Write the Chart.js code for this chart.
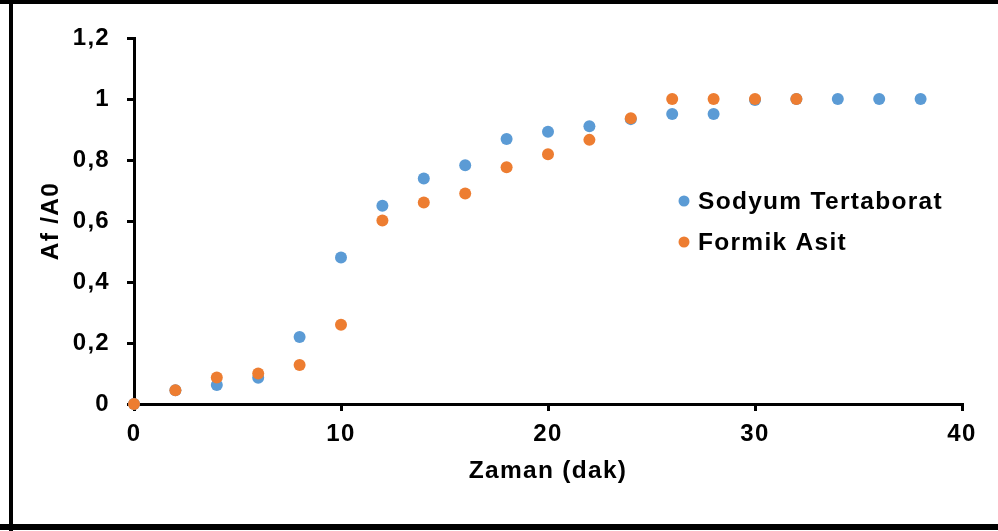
<!DOCTYPE html>
<html lang="tr">
<head>
    <meta charset="UTF-8">
    <title>Af/A0 - Zaman</title>
    <script src="https://cdn.jsdelivr.net/npm/chart.js"></script>
    <style>
        html, body {
            margin: 0;
            padding: 0;
            background: #fff;
        }
        .chart-box {
            position: relative;
            width: 998px;
            height: 531px;
        }
    </style>
</head>
<body>
    <div class="chart-box">
        <canvas id="afChart"></canvas>
    </div>

    <script>
        // zaman (dak)
        const zamanTetraborat = [0, 2, 4, 6, 8, 10, 12, 14, 16, 18, 20, 22, 24, 26, 28, 30, 32, 34, 36, 38];
        const zamanFormik = [0, 2, 4, 6, 8, 10, 12, 14, 16, 18, 20, 22, 24, 26, 28, 30, 32];

        // Af / A0
        const tetraboratDegerleri = [0, 0.045, 0.062, 0.086, 0.22, 0.48, 0.65, 0.739, 0.783, 0.869, 0.893, 0.911, 0.934, 0.951, 0.951, 0.997, 1, 1, 1, 1];
        const formikDegerleri = [0, 0.045, 0.087, 0.1, 0.128, 0.26, 0.602, 0.661, 0.69, 0.776, 0.819, 0.866, 0.937, 1, 1, 1, 1];

        const seriAdlari = ['Sodyum Tertaborat', 'Formik Asit'];
        const renkler = ['#5B9BD5', '#ED7D31'];

        const FONT = "'Liberation Sans', Arial, sans-serif";
        const SPACING = '1.3px';

        const noktalar = (xs, ys) => xs.map((x, i) => ({ x: x, y: ys[i] }));

        // slightly wider letter spacing for all canvas text
        const harfAraligi = {
            id: 'harfAraligi',
            beforeLayout(chart) { chart.ctx.letterSpacing = SPACING; },
            beforeDraw(chart) { chart.ctx.letterSpacing = SPACING; }
        };

        // frame on top, left and bottom edges
        const cerceve = {
            id: 'cerceve',
            afterDraw(chart) {
                const ctx = chart.ctx;
                const w = chart.width, h = chart.height;
                ctx.save();
                ctx.fillStyle = '#000';
                ctx.fillRect(0, 0, w, 4);
                ctx.fillRect(9, 0, 4, h);
                ctx.fillRect(0, 524, w, 6);
                ctx.restore();
            }
        };

        // legend inside the plot
        const gosterge = {
            id: 'gosterge',
            afterDraw(chart) {
                const ctx = chart.ctx;
                ctx.save();
                ctx.letterSpacing = SPACING;
                ctx.font = 'bold 24.5px ' + FONT;
                ctx.textBaseline = 'middle';
                ctx.textAlign = 'left';
                seriAdlari.forEach((ad, i) => {
                    const y = 201 + i * 41;
                    ctx.fillStyle = renkler[i];
                    ctx.beginPath();
                    ctx.arc(684, y, 5.5, 0, Math.PI * 2);
                    ctx.fill();
                    ctx.fillStyle = '#000';
                    ctx.fillText(ad, 698, y + 1);
                });
                ctx.restore();
            }
        };

        const virgullu = (v) => String(Math.round(v * 10) / 10).replace('.', ',');

        new Chart(document.getElementById('afChart'), {
            type: 'scatter',
            data: {
                datasets: [
                    {
                        label: seriAdlari[0],
                        data: noktalar(zamanTetraborat, tetraboratDegerleri),
                        backgroundColor: renkler[0],
                        borderWidth: 0,
                        pointRadius: 6,
                        clip: false,
                        order: 1
                    },
                    {
                        label: seriAdlari[1],
                        data: noktalar(zamanFormik, formikDegerleri),
                        backgroundColor: renkler[1],
                        borderWidth: 0,
                        pointRadius: 6,
                        clip: false,
                        order: 0
                    }
                ]
            },
            options: {
                responsive: true,
                maintainAspectRatio: false,
                animation: false,
                layout: {
                    padding: { left: 20, top: 38, right: 36, bottom: 20 }
                },
                plugins: {
                    legend: { display: false },
                    tooltip: { enabled: false }
                },
                scales: {
                    x: {
                        type: 'linear',
                        min: 0,
                        max: 40,
                        border: { color: '#000', width: 3 },
                        grid: {
                            drawOnChartArea: false,
                            drawTicks: true,
                            tickLength: 7,
                            color: '#000',
                            lineWidth: 3
                        },
                        ticks: {
                            stepSize: 10,
                            color: '#000',
                            padding: 9,
                            maxRotation: 0,
                            font: { family: FONT, size: 24, weight: 'bold' }
                        },
                        title: {
                            display: true,
                            text: 'Zaman (dak)',
                            color: '#000',
                            padding: { top: 0, bottom: 25 },
                            font: { family: FONT, size: 24.5, weight: 'bold' }
                        },
                        afterFit(scale) { scale.height = 107; }
                    },
                    y: {
                        min: 0,
                        max: 1.2,
                        border: { color: '#000', width: 3 },
                        grid: {
                            drawOnChartArea: false,
                            drawTicks: true,
                            tickLength: 7,
                            color: '#000',
                            lineWidth: 3
                        },
                        ticks: {
                            stepSize: 0.2,
                            color: '#000',
                            padding: 17,
                            font: { family: FONT, size: 24, weight: 'bold' },
                            callback: (v) => virgullu(v)
                        },
                        title: {
                            display: true,
                            text: 'Af /A0',
                            color: '#000',
                            padding: { top: 17, bottom: 0 },
                            font: { family: FONT, size: 24.5, weight: 'bold' }
                        },
                        afterFit(scale) { scale.width = 114; }
                    }
                }
            },
            plugins: [harfAraligi, cerceve, gosterge]
        });
    </script>
</body>
</html>
